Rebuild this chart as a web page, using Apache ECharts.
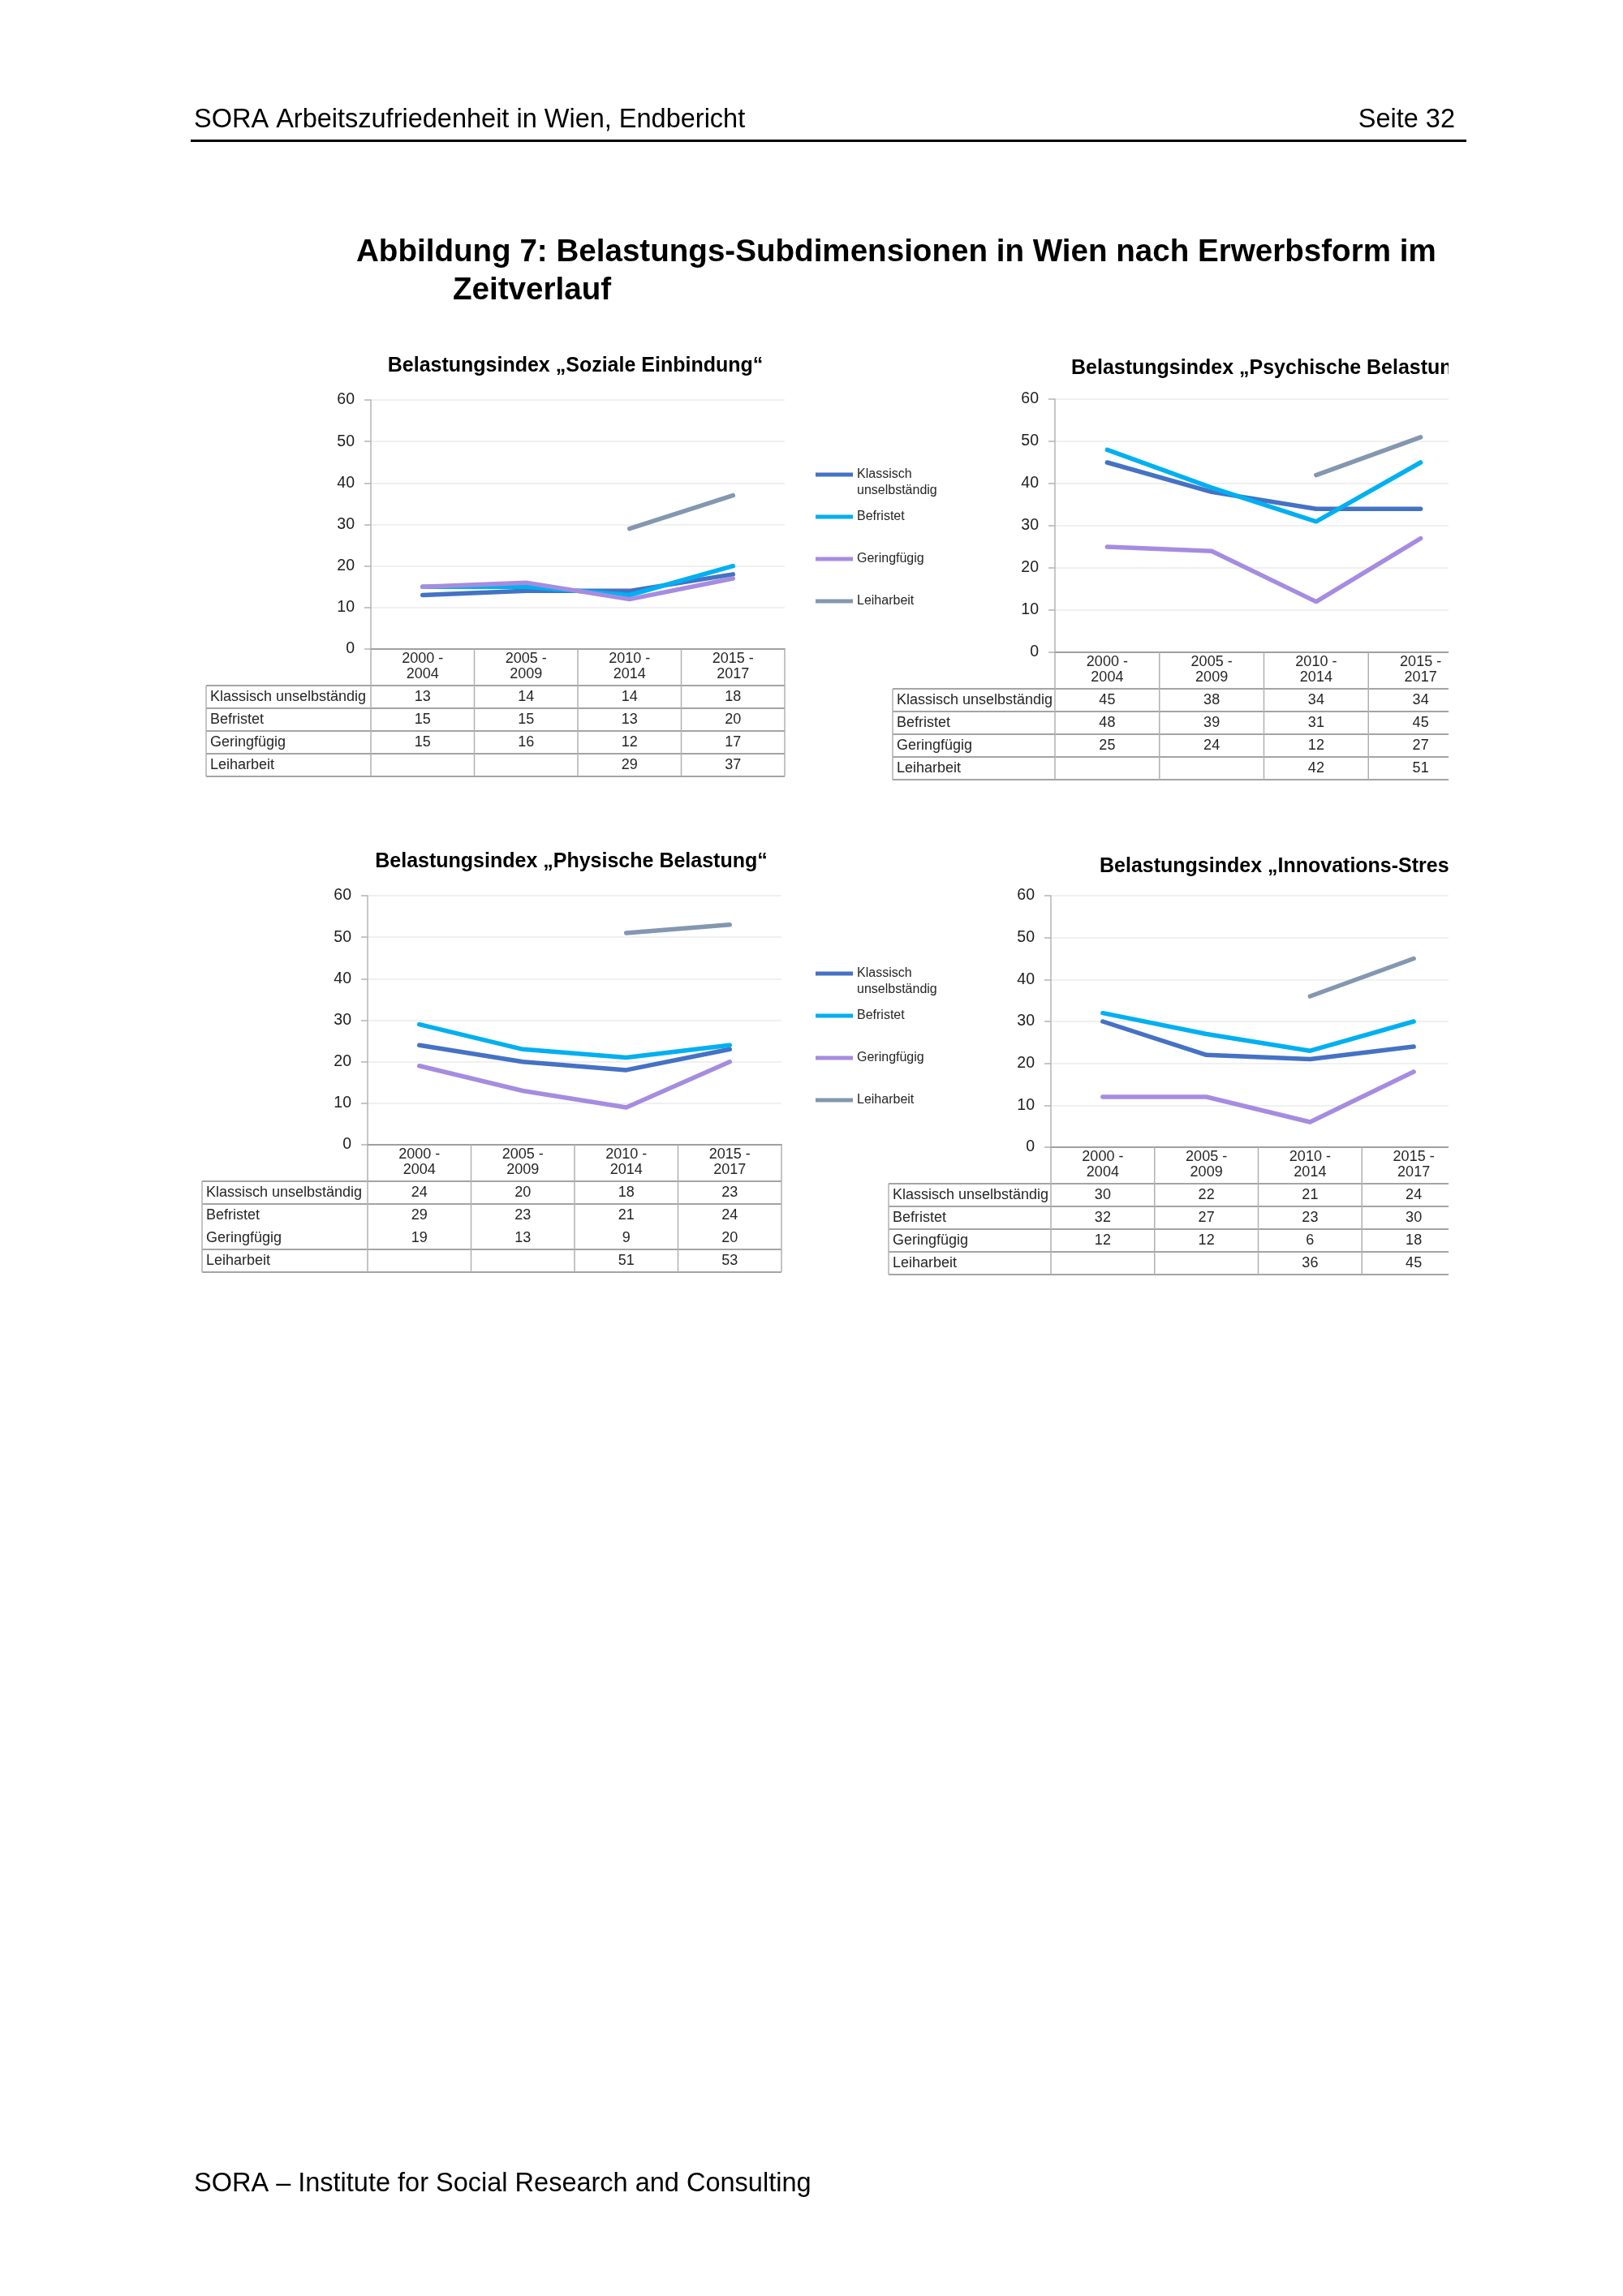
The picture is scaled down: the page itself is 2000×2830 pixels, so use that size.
<!DOCTYPE html>
<html>
<head>
  <meta charset="utf-8">
  <style>
    html, body { margin: 0; padding: 0; background: #fff; }
    #container { width: 2000px; height: 2830px; }
  </style>
</head>
<body>
  <div id="container"></div>
  <script type="text/javascript" src="https://cdn.jsdelivr.net/npm/echarts@6/dist/echarts.min.js"></script>
  <script type="text/javascript">
    // --- data ---
    var categories = ['2000 - 2004', '2005 - 2009', '2010 - 2014', '2015 - 2017'];
    var seriesNames = ['Klassisch unselbständig', 'Befristet', 'Geringfügig', 'Leiharbeit'];
    var lineColors = ['#4472C4', '#00B0F0', '#A68CE0', '#8497B0'];
    var yTicks = [0, 10, 20, 30, 40, 50, 60];

    var sozKlassisch = [13, 14, 14, 18];
    var sozBefristet = [15, 15, 13, 20];
    var sozGering = [15, 16, 12, 17];
    var sozLeih = [null, null, 29, 37];

    var psyKlassisch = [45, 38, 34, 34];
    var psyBefristet = [48, 39, 31, 45];
    var psyGering = [25, 24, 12, 27];
    var psyLeih = [null, null, 42, 51];

    var phyKlassisch = [24, 20, 18, 23];
    var phyBefristet = [29, 23, 21, 24];
    var phyGering = [19, 13, 9, 20];
    var phyLeih = [null, null, 51, 53];

    var innKlassisch = [30, 22, 21, 24];
    var innBefristet = [32, 27, 23, 30];
    var innGering = [12, 12, 6, 18];
    var innLeih = [null, null, 36, 45];

    var FONT = "'Liberation Sans', Arial, Helvetica, sans-serif";
    var TXT = '#262626';

    var panels = [
      { title: 'Belastungsindex „Soziale Einbindung“', values: [sozKlassisch, sozBefristet, sozGering, sozLeih],
        grid: { left: 457, top: 493, width: 510, height: 307 }, titleX: 709, titleY: 451, titleAlign: 'center',
        tableLeft: 254, skipRule: [] },
      { title: 'Belastungsindex „Psychische Belastung“', values: [psyKlassisch, psyBefristet, psyGering, psyLeih],
        grid: { left: 1300, top: 492, width: 515, height: 312 }, titleX: 1320, titleY: 454, titleAlign: 'left',
        tableLeft: 1100, skipRule: [] },
      { title: 'Belastungsindex „Physische Belastung“', values: [phyKlassisch, phyBefristet, phyGering, phyLeih],
        grid: { left: 453, top: 1104, width: 510, height: 307 }, titleX: 704, titleY: 1062, titleAlign: 'center',
        tableLeft: 249, skipRule: [1] },
      { title: 'Belastungsindex „Innovations-Stress“', values: [innKlassisch, innBefristet, innGering, innLeih],
        grid: { left: 1295, top: 1104, width: 511, height: 310 }, titleX: 1355, titleY: 1068, titleAlign: 'left',
        tableLeft: 1095, skipRule: [] }
    ];

    var dom = document.getElementById('container');
    var myChart = echarts.init(dom, null, { renderer: 'canvas' });

    var grids = [], xAxes = [], yAxes = [], series = [];
    panels.forEach(function (p, i) {
      grids.push({ left: p.grid.left, top: p.grid.top, width: p.grid.width, height: p.grid.height, containLabel: false });
      xAxes.push({
        gridIndex: i, type: 'category', data: categories, boundaryGap: true,
        axisLine: { lineStyle: { color: '#a0a0a0', width: 2 } },
        axisTick: { show: false }, axisLabel: { show: false }, splitLine: { show: false }
      });
      yAxes.push({
        gridIndex: i, type: 'value',
        min: yTicks[0], max: yTicks[yTicks.length - 1], interval: yTicks[1] - yTicks[0],
        axisLine: { show: true, lineStyle: { color: '#b4b4b4', width: 1.5 } },
        axisTick: { show: true, length: 8, lineStyle: { color: '#b4b4b4', width: 1.5 } },
        axisLabel: { margin: 20, fontSize: 19.5, color: '#1e1e1e', fontFamily: FONT },
        splitLine: { lineStyle: { color: '#ebebeb', width: 1.5 } }
      });
      seriesNames.forEach(function (name, k) {
        series.push({
          type: 'line', name: name, xAxisIndex: i, yAxisIndex: i,
          data: p.values[k], symbol: 'none', showSymbol: false,
          color: lineColors[k],
          lineStyle: { width: 5.5, color: lineColors[k], cap: 'round', join: 'round' },
          emphasis: { disabled: true }, z: 3
        });
      });
    });

    function legendFmt(name) {
      return name === 'Klassisch unselbständig' ? 'Klassisch' : name;
    }
    function makeLegend(top) {
      return {
        data: seriesNames, orient: 'vertical', left: 1005, top: top, padding: 0,
        itemGap: 34, itemWidth: 46, itemHeight: 5, icon: 'rect', selectedMode: false,
        formatter: legendFmt,
        textStyle: { fontSize: 16, lineHeight: 18, color: TXT, fontFamily: FONT }
      };
    }

    var option = {
      backgroundColor: '#ffffff',
      animation: false,
      color: lineColors,
      grid: grids,
      xAxis: xAxes,
      yAxis: yAxes,
      legend: [makeLegend(576), makeLegend(1191)],
      series: series
    };
    myChart.setOption(option);

    // --- texts, tables and the page frame, placed from the axes ---
    function txt(x, y, s, size, align, weight) {
      return {
        type: 'text', x: x, y: y, z: 50,
        style: {
          text: s, fontSize: size, fontFamily: FONT, fontWeight: weight || 'normal', fill: '#000',
          textAlign: align || 'left', textVerticalAlign: 'middle'
        }
      };
    }
    function cell(x, y, s, align) {
      var t = txt(x, y, s, 18, align);
      t.style.fill = TXT;
      return t;
    }
    function rule(x1, y1, x2, y2, w, c) {
      return { type: 'line', z: 40, shape: { x1: x1, y1: y1, x2: x2, y2: y2 }, style: { stroke: c, lineWidth: w } };
    }

    var els = [];
    panels.forEach(function (p, i) {
      var centers = categories.map(function (c) { return myChart.convertToPixel({ xAxisIndex: i }, c); });
      var band = centers[1] - centers[0];
      var xa = centers[0] - band / 2;
      var xr = centers[centers.length - 1] + band / 2;
      var y0 = myChart.convertToPixel({ yAxisIndex: i }, 0);
      var headBottom = y0 + 45, rowH = 28;
      var bottom = headBottom + rowH * seriesNames.length;

      els.push(txt(p.titleX, p.titleY, p.title, 25, p.titleAlign, 'bold'));

      els.push(rule(p.tableLeft, headBottom, xr, headBottom, 2, '#a4a4a4'));
      seriesNames.forEach(function (n, k) {
        if (p.skipRule.indexOf(k) < 0) {
          var yy = headBottom + rowH * (k + 1);
          els.push(rule(p.tableLeft, yy, xr, yy, 2, '#a4a4a4'));
        }
      });
      els.push(rule(p.tableLeft, headBottom, p.tableLeft, bottom, 1.5, '#b0b0b0'));
      for (var j = 0; j <= categories.length; j++) {
        var xx = xa + band * j;
        els.push(rule(xx, y0, xx, bottom, 1.5, '#b0b0b0'));
      }

      categories.forEach(function (c, j) {
        var parts = c.split(' - ');
        els.push(cell(centers[j], y0 + 12, parts[0] + ' -', 'center'));
        els.push(cell(centers[j], y0 + 31, parts[1], 'center'));
      });
      seriesNames.forEach(function (n, k) {
        var yc = headBottom + rowH * k + rowH / 2;
        els.push(cell(p.tableLeft + 5, yc, n, 'left'));
        p.values[k].forEach(function (v, j) {
          if (v !== null) els.push(cell(centers[j], yc, String(v), 'center'));
        });
      });
    });

    // second legend line
    els.push(cell(1056, 605, 'unselbständig', 'left'));
    els.push(cell(1056, 1220, 'unselbständig', 'left'));
    els[els.length - 2].style.fontSize = 16;
    els[els.length - 1].style.fontSize = 16;

    // right-hand charts are cut off at the page picture edge
    els.push({ type: 'rect', z: 100, shape: { x: 1785, y: 400, width: 215, height: 1250 }, style: { fill: '#ffffff' } });

    // page header, figure caption, footer
    els.push(txt(239, 148, 'SORA Arbeitszufriedenheit in Wien, Endbericht', 32.5, 'left'));
    els.push(txt(1793, 148, 'Seite 32', 32.5, 'right'));
    els.push({ type: 'rect', z: 50, shape: { x: 235, y: 172, width: 1572, height: 3 }, style: { fill: '#000' } });
    els.push(txt(439, 311, 'Abbildung 7: Belastungs-Subdimensionen in Wien nach Erwerbsform im', 38.6, 'left', 'bold'));
    els.push(txt(558, 358, 'Zeitverlauf', 38.6, 'left', 'bold'));
    els.push(txt(239, 2692, 'SORA – Institute for Social Research and Consulting', 32.5, 'left'));

    myChart.setOption({ graphic: { elements: els } });
  </script>
</body>
</html>
